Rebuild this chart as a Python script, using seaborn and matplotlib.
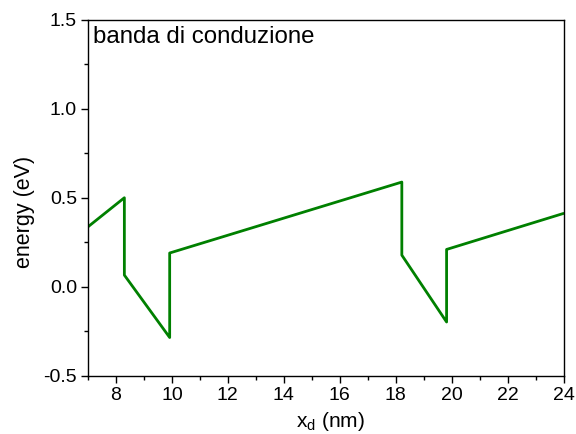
import matplotlib
matplotlib.use("Agg")
import matplotlib.pyplot as plt
import seaborn as sns
import pandas as pd
from matplotlib.ticker import MultipleLocator

x_nm = [7.0, 8.30, 8.30, 9.92, 9.92, 18.22, 18.22, 19.82, 19.82, 24.0]
energy_ev = [0.337, 0.500, 0.066, -0.284, 0.190, 0.588, 0.178, -0.197, 0.210, 0.412]
x_ticks = [8, 10, 12, 14, 16, 18, 20, 22, 24]
y_ticks = [-0.5, 0.0, 0.5, 1.0, 1.5]

df = pd.DataFrame({"x": x_nm, "E": energy_ev})

sns.set_theme(style="ticks")
plt.rcParams['font.family'] = ['Liberation Sans', 'DejaVu Sans']
plt.rcParams['mathtext.fontset'] = 'custom'
plt.rcParams['mathtext.rm'] = 'Liberation Sans'
plt.rcParams['text.color'] = 'black'
plt.rcParams['axes.labelcolor'] = 'black'

fig = plt.figure(figsize=(5.76, 4.34), dpi=100)
ax = fig.add_axes([88/576, 1 - 376/434, (563.5 - 88)/576, (376 - 19.5)/434])

sns.lineplot(data=df, x="x", y="E", sort=False, estimator=None, color="#008000",
             linewidth=2.0, ax=ax)

ax.set_xlim(7, 24)
ax.set_ylim(-0.5, 1.5)
ax.set_xticks(x_ticks)
ax.set_yticks(y_ticks)
ax.set_yticklabels([f"{v:.1f}" for v in y_ticks])
ax.xaxis.set_minor_locator(MultipleLocator(1))
ax.yaxis.set_minor_locator(MultipleLocator(0.25))
ax.tick_params(which="major", direction="out", length=5, width=1, labelsize=14,
               color="black", labelcolor="black", pad=3)
ax.tick_params(which="minor", direction="out", length=3, width=1, color="black")
for s in ax.spines.values():
    s.set_visible(True)
    s.set_linewidth(1)
    s.set_color("black")

ax.set_xlabel(r"x$_\mathregular{d}$ (nm)", fontsize=15)
ax.xaxis.set_label_coords(0.51, -0.095)
ax.set_ylabel("energy (eV)", fontsize=15.5)
ax.yaxis.set_label_coords(-0.112, 0.461)
ax.text(0.011, 0.982, "banda di conduzione", transform=ax.transAxes,
        fontsize=17.3, va="top", ha="left")

fig.savefig("out.png", dpi=100)
